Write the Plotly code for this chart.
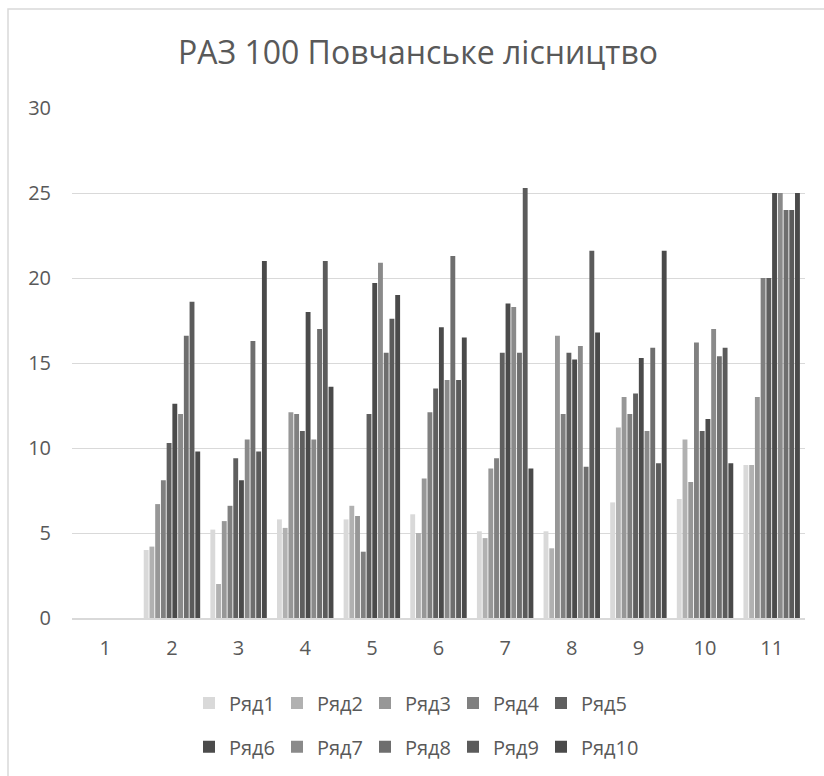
import plotly.graph_objects as go

# Plot categories (x axis) and the ten series
categories = [1, 2, 3, 4, 5, 6, 7, 8, 9, 10, 11]

series_names = ["Ряд1", "Ряд2", "Ряд3", "Ряд4", "Ряд5",
                "Ряд6", "Ряд7", "Ряд8", "Ряд9", "Ряд10"]

ryad1 = [0, 4.0, 5.2, 5.8, 5.8, 6.1, 5.1, 5.1, 6.8, 7.0, 9.0]
ryad2 = [0, 4.2, 2.0, 5.3, 6.6, 5.0, 4.7, 4.1, 11.2, 10.5, 9.0]
ryad3 = [0, 6.7, 5.7, 12.1, 6.0, 8.2, 8.8, 16.6, 13.0, 8.0, 13.0]
ryad4 = [0, 8.1, 6.6, 12.0, 3.9, 12.1, 9.4, 12.0, 12.0, 16.2, 20.0]
ryad5 = [0, 10.3, 9.4, 11.0, 12.0, 13.5, 15.6, 15.6, 13.2, 11.0, 20.0]
ryad6 = [0, 12.6, 8.1, 18.0, 19.7, 17.1, 18.5, 15.2, 15.3, 11.7, 25.0]
ryad7 = [0, 12.0, 10.5, 10.5, 20.9, 14.0, 18.3, 16.0, 11.0, 17.0, 25.0]
ryad8 = [0, 16.6, 16.3, 17.0, 15.6, 21.3, 15.6, 8.9, 15.9, 15.4, 24.0]
ryad9 = [0, 18.6, 9.8, 21.0, 17.6, 14.0, 25.3, 21.6, 9.1, 15.9, 24.0]
ryad10 = [0, 9.8, 21.0, 13.6, 19.0, 16.5, 8.8, 16.8, 21.6, 9.1, 25.0]

series_values = [ryad1, ryad2, ryad3, ryad4, ryad5,
                 ryad6, ryad7, ryad8, ryad9, ryad10]

y_ticks = [0, 5, 10, 15, 20, 25, 30]

# Grey monochrome palette
colors = ["#d9d9d9", "#b1b1b1", "#979797", "#808080", "#5f5f5f",
          "#4b4b4b", "#8a8a8a", "#6e6e6e", "#5b5b5b", "#4a4a4a"]

text_color = "#595959"
grid_color = "#d9d9d9"
font_family = "Open Sans"

W, H = 824, 776
ml, mr, mt, mb = 72, 19, 107.5, 158
pw, ph = W - ml - mr, H - mt - mb


def px_x(x):
    return (x - ml) / pw


def px_y(y):
    return (H - mb - y) / ph


# Legend rows: five entries on the first row, five on the second;
# the last entry gets its own legend so its wider label is not clipped.
legend_of = ["legend"] * 5 + ["legend2"] * 4 + ["legend3"]

fig = go.Figure()
for i, (name, vals) in enumerate(zip(series_names, series_values)):
    fig.add_trace(go.Bar(
        x=categories, y=vals, name=name,
        marker=dict(color=colors[i], line=dict(width=0)),
        legend=legend_of[i],
    ))

entry_px = 88           # spacing between legend entries
entry_overhead = 45     # symbol area + gaps added by plotly to each entry
legend_font = dict(family=font_family, size=20, color=text_color)
legend_common = dict(
    orientation="h", xanchor="left", yanchor="middle",
    entrywidth=entry_px - entry_overhead, entrywidthmode="pixels",
    font=legend_font, bgcolor="rgba(0,0,0,0)", itemclick=False,
    traceorder="normal", tracegroupgap=0,
)
legend_left = 189

fig.update_layout(
    width=W, height=H,
    margin=dict(l=ml, r=mr, t=mt, b=mb, autoexpand=False),
    paper_bgcolor="white", plot_bgcolor="white",
    font=dict(family=font_family, color=text_color),
    title=dict(
        text="РАЗ 100 Повчанське лісництво",
        font=dict(family=font_family, size=32, color=text_color),
        x=418 / W, xanchor="center", xref="container",
        y=1 - 53 / H, yanchor="middle", yref="container",
    ),
    barmode="group", bargap=0.14, bargroupgap=0.15,
    legend=dict(x=px_x(legend_left), y=px_y(703), **legend_common),
    legend2=dict(x=px_x(legend_left), y=px_y(747), **legend_common),
    legend3=dict(x=px_x(legend_left + 4 * entry_px), y=px_y(747),
                 **{**legend_common, "entrywidth": 70}),
    xaxis=dict(
        range=[0.5, 11.5], tickmode="array", tickvals=categories,
        ticktext=[str(c) for c in categories],
        showgrid=False, zeroline=False,
        showline=True, linecolor=grid_color, linewidth=1.5,
        ticks="", tickfont=dict(family=font_family, size=20, color=text_color),
        ticklabelstandoff=11,
    ),
    yaxis=dict(
        range=[0, 30], tickmode="array", tickvals=y_ticks,
        ticktext=[str(v) for v in y_ticks],
        showgrid=True, gridcolor=grid_color, gridwidth=1,
        zeroline=False, showline=False, ticks="",
        tickfont=dict(family=font_family, size=20, color=text_color),
        ticklabelstandoff=20,
    ),
    shapes=[dict(
        type="rect", xref="paper", yref="paper",
        x0=px_x(8), x1=px_x(900), y0=px_y(900), y1=px_y(8.5),
        line=dict(color=grid_color, width=1.5), fillcolor="rgba(0,0,0,0)",
        layer="below",
    )],
)

fig.write_html("out.html")
